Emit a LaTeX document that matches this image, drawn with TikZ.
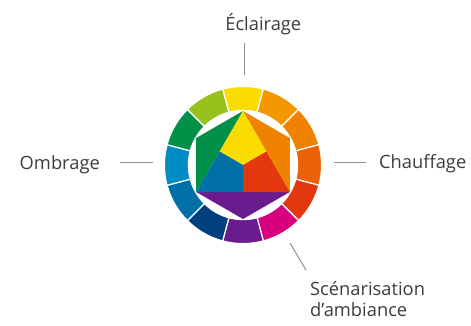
\documentclass[tikz,border=0pt]{standalone}
\usepackage{fontspec}
\setmainfont{Open Sans}
\usepackage{tikz}
\usetikzlibrary{calc}

\definecolor{labelgray}{HTML}{3C3C3C}
\definecolor{leadgray}{HTML}{909090}
\definecolor{wy}{HTML}{FADC00}
\definecolor{wyo}{HTML}{F39800}
\definecolor{wo}{HTML}{EF8200}
\definecolor{wro}{HTML}{EA6109}
\definecolor{wr}{HTML}{E2370F}
\definecolor{wrv}{HTML}{D9007E}
\definecolor{wv}{HTML}{6A1C8E}
\definecolor{wbv}{HTML}{003F7D}
\definecolor{wb}{HTML}{0070A7}
\definecolor{wgb}{HTML}{008DC6}
\definecolor{wg}{HTML}{009048}
\definecolor{wyg}{HTML}{97C21E}

\begin{document}
\begin{tikzpicture}[x=1pt,y=1pt,
	label/.style={text=labelgray,font=\fontsize{18.3}{21}\selectfont,inner sep=0pt},
	leader/.style={draw=leadgray,line width=1pt}]
	\useasboundingbox (-243,-160) rectangle (228,165);
	% outer ring of twelve colours
	\foreach \c [count=\i from 0, evaluate=\i as \a using 105-30*\i, evaluate=\i as \b using 75-30*\i] in {wy,wyo,wo,wro,wr,wrv,wv,wbv,wb,wgb,wg,wyg}
		{\filldraw[fill=\c,draw=white,line width=1.2pt] (\a:78.6) arc[start angle=\a,end angle=\b,radius=78.6] -- (\b:54.6) arc[start angle=\b,end angle=\a,radius=54.6] -- cycle;};
	% hexagon
	\coordinate (T) at (90:54);
	\coordinate (O) at (30:54);
	\coordinate (R) at (-30:54);
	\coordinate (V) at (-90:54);
	\coordinate (B) at (-150:54);
	\coordinate (G) at (150:54);
	\coordinate (C) at (0,0);
	\fill[wo] (T)--(O)--(R)--cycle;
	\fill[wv] (R)--(V)--(B)--cycle;
	\fill[wg] (B)--(G)--(T)--cycle;
	\fill[wy] (T)--($(T)!0.5!(R)$)--(C)--($(B)!0.5!(T)$)--cycle;
	\fill[wr] (R)--($(R)!0.5!(B)$)--(C)--($(T)!0.5!(R)$)--cycle;
	\fill[wb] (B)--($(B)!0.5!(T)$)--(C)--($(R)!0.5!(B)$)--cycle;
	% labels and leaders
	\node[label,anchor=base] (eclairage) at (20.3,135) {Éclairage};
	\node[label,anchor=base east] (ombrage) at (-143,-4) {Ombrage};
	\node[label,anchor=base west] (chauffage) at (136,-3.3) {Chauffage};
	\node[label,anchor=base west,align=left] (scenario) at (67,-151.7) {Scénarisation\\d’ambiance};
	\coordinate (eclA) at (1.3,122.3);
	\coordinate (eclB) at (1.3,90);
	\coordinate (ombA) at (-123,2.3);
	\coordinate (ombB) at (-90,2.3);
	\coordinate (chaA) at (91,2.3);
	\coordinate (chaB) at (123,2.3);
	\coordinate (scnA) at (47,-78);
	\coordinate (scnB) at (63,-105);
	\draw[leader] (eclA) -- (eclB);
	\draw[leader] (ombA) -- (ombB);
	\draw[leader] (chaA) -- (chaB);
	\draw[leader] (scnA) -- (scnB);
\end{tikzpicture}
\end{document}
